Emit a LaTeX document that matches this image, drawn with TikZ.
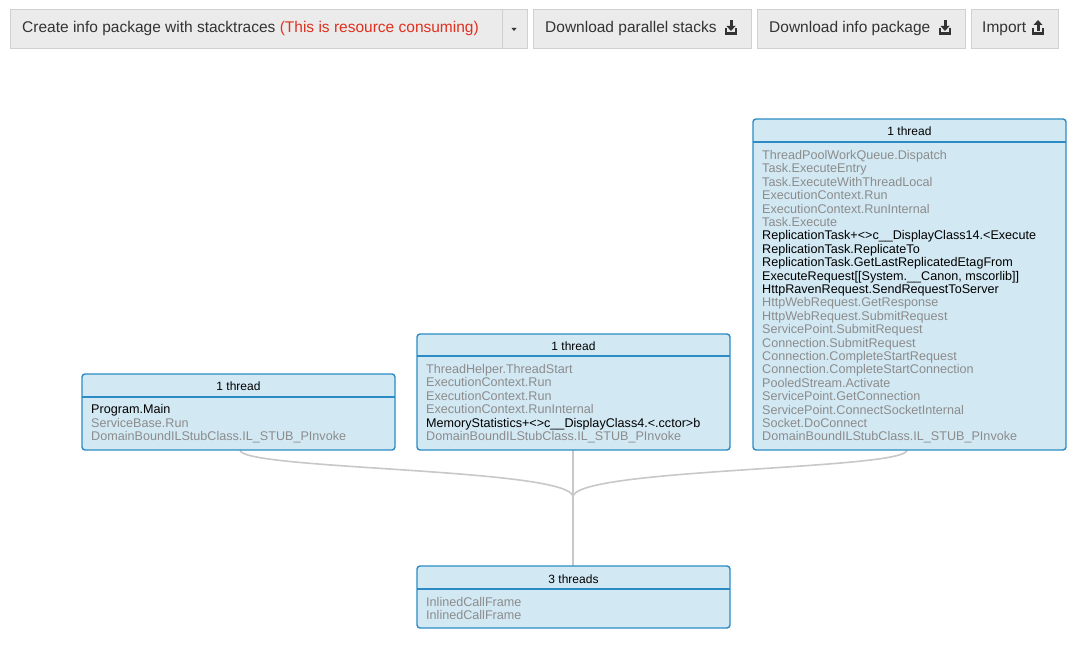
\documentclass[tikz,border=0pt]{standalone}
\usepackage{fontspec}
\setmainfont{Liberation Sans}
\definecolor{boxfill}{HTML}{D2E8F3}
\definecolor{boxline}{HTML}{2B8CC4}
\definecolor{frm}{HTML}{8C8C8C}
\definecolor{btn}{HTML}{EBEBEB}
\definecolor{btnline}{HTML}{D0D0D0}
\definecolor{btntext}{HTML}{333333}
\definecolor{warn}{HTML}{E0301E}
\definecolor{conn}{HTML}{C8C8C8}
\tikzset{
 stackbox/.style={draw=boxline,fill=boxfill,line width=1.4pt,rounded corners=3pt},
 hdr/.style={anchor=base,font=\fontsize{12}{12}\selectfont},
 ln/.style={anchor=base west,inner sep=0pt,font=\fontsize{12.6}{12.6}\selectfont,text=frm},
 hot/.style={ln,text=black},
 btnbox/.style={draw=btnline,fill=btn,line width=0.8pt},
 btnt/.style={anchor=base west,inner sep=0pt,text=btntext,font=\fontsize{15.5}{15.5}\selectfont},
 connector/.style={draw=conn,line width=1.6pt}
}
\newcommand{\dlicon}[2]{%
 \fill[btntext] (#1-6,#2-1) rectangle (#1+6,#2+2);
 \fill[btntext] (#1-6,#2-5) rectangle (#1-4,#2);
 \fill[btntext] (#1+4,#2-5) rectangle (#1+6,#2);
 \fill[btntext] (#1-1.5,#2-13) rectangle (#1+1.5,#2-6);
 \fill[btntext] (#1-4.5,#2-7) -- (#1+4.5,#2-7) -- (#1,#2-2) -- cycle;}
\newcommand{\ulicon}[2]{%
 \fill[btntext] (#1-6,#2-1) rectangle (#1+6,#2+2);
 \fill[btntext] (#1-6,#2-5) rectangle (#1-4,#2);
 \fill[btntext] (#1+4,#2-5) rectangle (#1+6,#2);
 \fill[btntext] (#1-1.5,#2-9) rectangle (#1+1.5,#2-2);
 \fill[btntext] (#1-4.5,#2-8) -- (#1+4.5,#2-8) -- (#1,#2-13) -- cycle;}
\begin{document}
\begin{tikzpicture}[x=1pt,y=-1pt]
\useasboundingbox[fill=white] (0,0) rectangle (1080,652);
% buttons
\draw[btnbox] (10,9) rectangle (502,48);
\draw[btnbox] (502,9) rectangle (527,48);
\draw[btnbox] (533,9) rectangle (751,48);
\draw[btnbox] (757,9) rectangle (965,48);
\draw[btnbox] (971,9) rectangle (1058,48);
\node[btnt] (b1) at (22,33) {Create info package with stacktraces \textcolor{warn}{(This is resource consuming)}};
\fill[btntext] (511.5,28) -- (516.5,28) -- (514,31) -- cycle;
\node[btnt] (b2) at (545,33) {Download parallel stacks};
\dlicon{731}{33}
\node[btnt] (b3) at (769,33) {Download info package};
\dlicon{945}{33}
\node[btnt] (b4) at (982,33) {Import};
\ulicon{1038}{33}
% connectors
\coordinate (j) at (573,497);
\draw[connector] (240,450) .. controls (240,470) and (573,468) .. (j);
\draw[connector] (907,450) .. controls (907,470) and (573,468) .. (j);
\draw[connector] (573,450) -- (573,566);
% box A
\draw[stackbox] (82,374) rectangle (395,450);
\draw[boxline,line width=1.4pt] (82,397) -- (395,397);
\node[hdr] (ha) at (238.5,391) {1 thread};
\node[hot] (a1) at (91,414) {Program.Main};
\node[ln] at (91,427.4) {ServiceBase.Run};
\node[ln] at (91,440.8) {DomainBoundILStubClass.IL\_STUB\_PInvoke};
% box B
\draw[stackbox] (417,334) rectangle (730,450);
\draw[boxline,line width=1.4pt] (417,356) -- (730,356);
\node[hdr] (hb) at (573.5,351) {1 thread};
\foreach \t [count=\i from 0] in {ThreadHelper.ThreadStart,ExecutionContext.Run,ExecutionContext.Run,ExecutionContext.RunInternal}
  \node[ln] at (426,373.5+13.4*\i) {\t};
\node[hot] at (426,427.1) {MemoryStatistics+<>c\_\_DisplayClass4.<.cctor>b};
\node[ln] at (426,440.5) {DomainBoundILStubClass.IL\_STUB\_PInvoke};
% box C
\draw[stackbox] (753,119) rectangle (1066,450);
\draw[boxline,line width=1.4pt] (753,142) -- (1066,142);
\node[hdr] (hc) at (909.5,136) {1 thread};
\foreach \t [count=\i from 0] in {ThreadPoolWorkQueue.Dispatch,Task.ExecuteEntry,Task.ExecuteWithThreadLocal,ExecutionContext.Run,ExecutionContext.RunInternal,Task.Execute}
  \node[ln] at (762,159.5+13.4*\i) {\t};
\foreach \t [count=\i from 6] in {ReplicationTask+<>c\_\_DisplayClass14.<Execute,ReplicationTask.ReplicateTo,ReplicationTask.GetLastReplicatedEtagFrom,{ExecuteRequest[[System.\_\_Canon, mscorlib]]},HttpRavenRequest.SendRequestToServer}
  \node[hot] at (762,159.5+13.4*\i) {\t};
\foreach \t [count=\i from 11] in {HttpWebRequest.GetResponse,HttpWebRequest.SubmitRequest,ServicePoint.SubmitRequest,Connection.SubmitRequest,Connection.CompleteStartRequest,Connection.CompleteStartConnection,PooledStream.Activate,ServicePoint.GetConnection,ServicePoint.ConnectSocketInternal,Socket.DoConnect,DomainBoundILStubClass.IL\_STUB\_PInvoke}
  \node[ln] at (762,159.5+13.4*\i) {\t};
% box D
\draw[stackbox] (417,566) rectangle (730,628);
\draw[boxline,line width=1.4pt] (417,589) -- (730,589);
\node[hdr] (hd) at (573.5,583) {3 threads};
\node[ln] at (426,606) {InlinedCallFrame};
\node[ln] at (426,619.4) {InlinedCallFrame};
\end{tikzpicture}
\end{document}
